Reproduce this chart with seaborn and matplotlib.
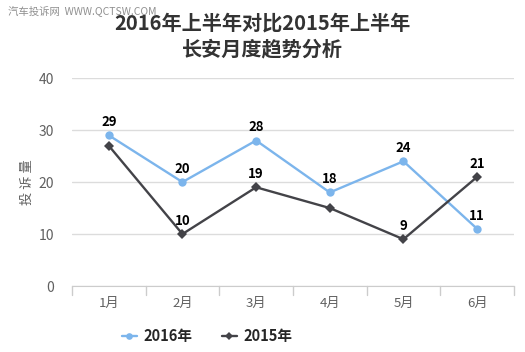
import pandas as pd
import matplotlib.pyplot as plt
import seaborn as sns

months = ["1月", "2月", "3月", "4月", "5月", "6月"]
y2016 = [29, 20, 28, 18, 24, 11]
y2015 = [27, 10, 19, 15, 9, 21]
# which 2015 points carry a value label in the picture
show2015 = [False, True, True, False, True, True]

df = pd.DataFrame({
    "month": months * 2,
    "count": y2016 + y2015,
    "year": ["2016年"] * 6 + ["2015年"] * 6,
})

sns.set_style("white")
plt.rcParams['font.family'] = ['Noto Sans CJK SC', 'DejaVu Sans']

fig = plt.figure(figsize=(5.25, 3.52), dpi=100)
ax = fig.add_axes([0.137, 0.1875, 0.842, 0.5905])

pal = {"2016年": "#7cb5ec", "2015年": "#434348"}
mk = {"2016年": "o", "2015年": "D"}
sns.lineplot(data=df, x="month", y="count", hue="year", style="year",
             markers=mk, dashes=False, palette=pal, lw=1.7,
             markersize=6, markeredgewidth=0, ax=ax)
# shrink the diamonds a bit
for ln in ax.lines:
    if ln.get_marker() == 'D':
        ln.set_markersize(5)

for i, m in enumerate(months):
    ax.text(i, y2016[i] + 1.2, str(y2016[i]), ha='center', va='bottom',
            fontsize=9.5, fontweight='bold', color='black')
    if show2015[i]:
        ax.text(i, y2015[i] + 1.2, str(y2015[i]), ha='center', va='bottom',
                fontsize=9.5, fontweight='bold', color='black')

ax.set_xlim(-0.5, 5.5)
ax.set_ylim(0, 40)
ax.set_yticks([0, 10, 20, 30, 40])
ax.grid(axis='y', color='#dcdcdc', lw=1)
ax.set_axisbelow(True)
for s in ['top', 'right', 'left']:
    ax.spines[s].set_visible(False)
ax.spines['bottom'].set_color('#cccccc')
ax.tick_params(axis='y', length=0, labelsize=10, labelcolor='#606060', pad=13)
ax.set_xticks(range(6))
ax.set_xticklabels(months)
ax.tick_params(axis='x', length=0, labelsize=9.5, labelcolor='#606060', pad=8)
for b in [-0.5, 0.5, 1.5, 2.5, 3.5, 4.5, 5.5]:
    ax.plot([b, b], [0, -1.8], color='#cccccc', lw=1, clip_on=False)
ax.set_xlabel("")
ax.set_ylabel("投 诉 量", fontsize=9.5, color='#606060', labelpad=3)

ax.legend_.remove()
h, l = ax.get_legend_handles_labels()
fig.legend(h, l, loc='center', bbox_to_anchor=(0.395, 0.045), ncol=2,
           frameon=False, prop={'weight': 'bold', 'size': 10.5},
           handlelength=1.0, handletextpad=0.5, columnspacing=2,
           markerscale=0.8)

fig.text(0.5, 0.935, "2016年上半年对比2015年上半年", ha='center', va='center',
         fontsize=14.5, fontweight='bold', color='#333333')
fig.text(0.5, 0.862, "长安月度趋势分析", ha='center', va='center',
         fontsize=14.5, fontweight='bold', color='#333333')
fig.text(0.015, 0.985, "汽车投诉网  WWW.QCTSW.COM", ha='left', va='top',
         fontsize=7.5, color='#909090')

fig.savefig("out.png", dpi=100)
